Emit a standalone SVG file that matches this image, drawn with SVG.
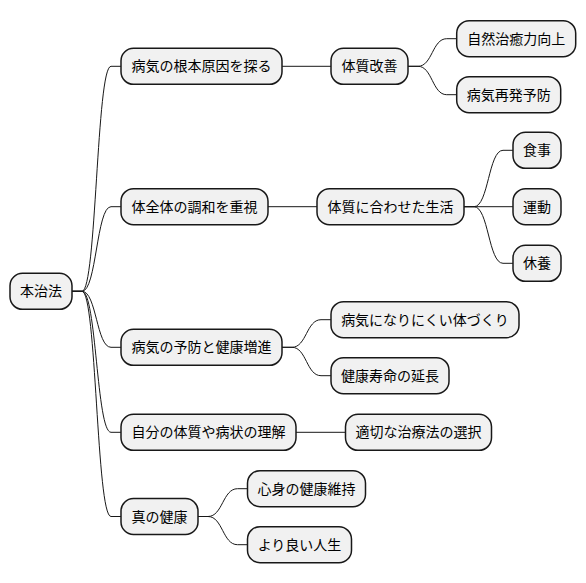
<svg xmlns="http://www.w3.org/2000/svg" width="586" height="583" viewBox="0 0 586 583">
<style>
.n rect{fill:#F1F1F1;stroke:#181818;stroke-width:1.5}
.n text{font-family:"Noto Sans CJK JP","Noto Sans",sans-serif;font-size:14px;fill:#000;text-anchor:middle}
#edges path{fill:none;stroke:#181818;stroke-width:1}
</style>
<rect width="586" height="583" fill="#FFFFFF"/>
<g id="edges">
<path d="M72,291.3 H82 C96.5,291.3 96.5,66.3 111,66.3 H121"/>
<path d="M72,291.3 H82 C96.5,291.3 96.5,206.7 111,206.7 H121"/>
<path d="M72,291.3 H82 C96.5,291.3 96.5,347.3 111,347.3 H121"/>
<path d="M72,291.3 H82 C96.5,291.3 96.5,432.3 111,432.3 H121"/>
<path d="M72,291.3 H82 C96.5,291.3 96.5,516.5 111,516.5 H121"/>
<path d="M282,66.3 H331"/>
<path d="M408,66.3 H418 C432.3,66.3 432.3,38.7 446.7,38.7 H456.7"/>
<path d="M408,66.3 H418 C432.3,66.3 432.3,94.7 446.7,94.7 H456.7"/>
<path d="M268,206.7 H317"/>
<path d="M464,206.7 H474 C488.5,206.7 488.5,150.3 503,150.3 H513"/>
<path d="M464,206.7 H513"/>
<path d="M464,206.7 H474 C488.5,206.7 488.5,263.3 503,263.3 H513"/>
<path d="M282,347.3 H292 C306.5,347.3 306.5,319.7 321,319.7 H331"/>
<path d="M282,347.3 H292 C306.5,347.3 306.5,375.7 321,375.7 H331"/>
<path d="M296,432.3 H345.5"/>
<path d="M198,516.5 H208 C222.7,516.5 222.7,488.7 237.5,488.7 H247.5"/>
<path d="M198,516.5 H208 C222.7,516.5 222.7,544.7 237.5,544.7 H247.5"/>
</g>
<g id="root" class="n"><rect x="10" y="273.3" width="62" height="36" rx="12.5"/><text x="41" y="296.3">本治法</text></g>
<g id="n1" class="n"><rect x="121" y="48.3" width="161" height="36" rx="12.5"/><text x="201.5" y="71.3">病気の根本原因を探る</text></g>
<g id="n1a" class="n"><rect x="331" y="48.3" width="77" height="36" rx="12.5"/><text x="369.5" y="71.3">体質改善</text></g>
<g id="n1a1" class="n"><rect x="456.7" y="20.7" width="119" height="36" rx="12.5"/><text x="516.2" y="43.7">自然治癒力向上</text></g>
<g id="n1a2" class="n"><rect x="456.7" y="76.7" width="104" height="36" rx="12.5"/><text x="508.7" y="99.7">病気再発予防</text></g>
<g id="n2" class="n"><rect x="121" y="188.7" width="147" height="36" rx="12.5"/><text x="194.5" y="211.7">体全体の調和を重視</text></g>
<g id="n2a" class="n"><rect x="317" y="188.7" width="147" height="36" rx="12.5"/><text x="390.5" y="211.7">体質に合わせた生活</text></g>
<g id="n2a1" class="n"><rect x="513" y="132.3" width="48" height="36" rx="12.5"/><text x="537" y="155.3">食事</text></g>
<g id="n2a2" class="n"><rect x="513" y="188.7" width="48" height="36" rx="12.5"/><text x="537" y="211.7">運動</text></g>
<g id="n2a3" class="n"><rect x="513" y="245.3" width="48" height="36" rx="12.5"/><text x="537" y="268.3">休養</text></g>
<g id="n3" class="n"><rect x="121" y="329.3" width="161" height="36" rx="12.5"/><text x="201.5" y="352.3">病気の予防と健康増進</text></g>
<g id="n3a" class="n"><rect x="331" y="301.7" width="188" height="36" rx="12.5"/><text x="425" y="324.7">病気になりにくい体づくり</text></g>
<g id="n3b" class="n"><rect x="331" y="357.7" width="118" height="36" rx="12.5"/><text x="390" y="380.7">健康寿命の延長</text></g>
<g id="n4" class="n"><rect x="121" y="414.3" width="175" height="36" rx="12.5"/><text x="208.5" y="437.3">自分の体質や病状の理解</text></g>
<g id="n4a" class="n"><rect x="345.5" y="414.3" width="146" height="36" rx="12.5"/><text x="418.5" y="437.3">適切な治療法の選択</text></g>
<g id="n5" class="n"><rect x="121" y="498.5" width="77" height="36" rx="12.5"/><text x="159.5" y="521.5">真の健康</text></g>
<g id="n5a" class="n"><rect x="247.5" y="470.7" width="118" height="36" rx="12.5"/><text x="306.5" y="493.7">心身の健康維持</text></g>
<g id="n5b" class="n"><rect x="247.5" y="526.7" width="104" height="36" rx="12.5"/><text x="299.5" y="549.7">より良い人生</text></g>
</svg>
